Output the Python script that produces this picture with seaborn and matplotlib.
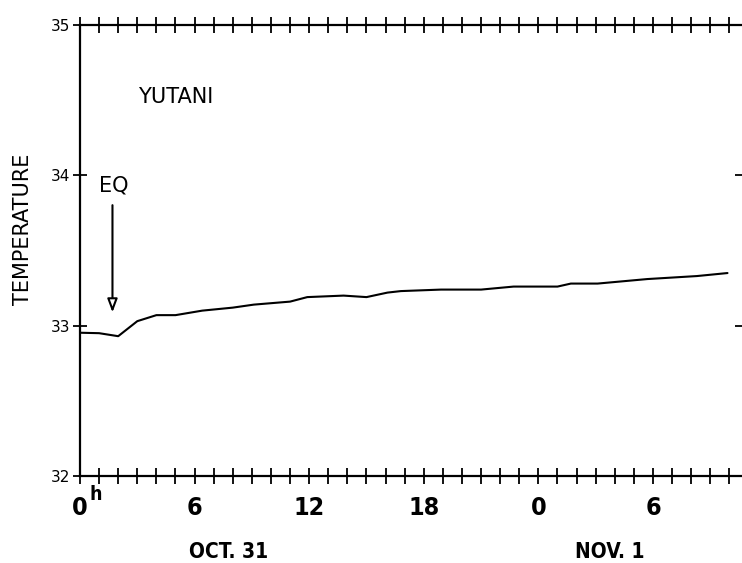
import matplotlib
matplotlib.use("Agg")
import matplotlib.pyplot as plt
import seaborn as sns
import pandas as pd
from matplotlib.ticker import MultipleLocator, FixedLocator, FixedFormatter
import matplotlib.transforms as mtransforms

# ---- data ----
hours = [0, 1, 2, 3, 4, 5, 6.4, 8, 9.1, 11, 11.9, 13.8, 15, 16.1, 16.8,
         18.9, 21, 22.7, 25, 25.7, 27.1, 29.7, 32.3, 33.9]
temps = [32.953, 32.95, 32.93, 33.03, 33.07, 33.07, 33.10, 33.12, 33.14,
         33.16, 33.19, 33.20, 33.19, 33.22, 33.23, 33.24, 33.24, 33.26,
         33.26, 33.28, 33.28, 33.31, 33.33, 33.35]
xtick_pos = [0, 6, 12, 18, 24, 30]
xtick_labels = ["0", "6", "12", "18", "0", "6"]
ytick_pos = [32, 33, 34, 35]
ytick_labels = ["32", "33", "34", "35"]
station = "YUTANI"
eq_hour = 1.7
date_labels = ["OCT. 31", "NOV. 1"]
date_hours = [7.8, 27.75]

df = pd.DataFrame({"hour": hours, "temp": temps})

sns.set_style("ticks")
plt.rcParams["font.family"] = ["DejaVu Sans"]
plt.rcParams["text.color"] = "black"
plt.rcParams["axes.labelcolor"] = "black"
plt.rcParams["xtick.color"] = "black"
plt.rcParams["ytick.color"] = "black"

fig = plt.figure(figsize=(7.42, 5.63), dpi=100)
ax = fig.add_axes([80 / 742, 1 - 476 / 563, 662 / 742, 451 / 563])

sns.lineplot(data=df, x="hour", y="temp", ax=ax, color="black", linewidth=1.5)

ax.set_xlim(0, 34.66)
ax.set_ylim(32, 35)

for s in ["left", "bottom", "top"]:
    ax.spines[s].set_visible(True)
    ax.spines[s].set_linewidth(1.6)
    ax.spines[s].set_color("black")
ax.spines["right"].set_visible(False)

ax.xaxis.set_major_locator(FixedLocator(xtick_pos))
ax.xaxis.set_major_formatter(FixedFormatter(xtick_labels))
ax.xaxis.set_minor_locator(MultipleLocator(1))
ax.yaxis.set_major_locator(FixedLocator(ytick_pos))
ax.yaxis.set_major_formatter(FixedFormatter(ytick_labels))

ax.tick_params(axis="x", which="both", direction="inout", length=11, width=1.3,
               top=True, bottom=True, labeltop=False, color="black")
ax.tick_params(axis="x", which="major", pad=9)
ax.tick_params(axis="y", which="major", direction="inout", length=10, width=1.3,
               left=True, right=True, labelright=False, labelsize=11, pad=2,
               color="black", labelcolor="black")

for lab in ax.get_xticklabels():
    lab.set_family("DejaVu Sans")
    lab.set_fontstretch("condensed")
    lab.set_fontweight("bold")
    lab.set_fontsize(18)
    lab.set_color("black")

ax.set_xlabel("")
ax.set_ylabel("TEMPERATURE", fontsize=15, color="black")
ax.yaxis.set_label_coords(-0.071, 0.548)

trans = mtransforms.blended_transform_factory(ax.transData, ax.transAxes)
ax.text(0.85, -0.042, "h", transform=trans, ha="center", va="center",
        fontsize=14, fontweight="bold", fontstretch="condensed")
for lbl, h in zip(date_labels, date_hours):
    ax.text(h, -0.168, lbl, transform=trans, ha="center", va="center",
            fontsize=15, fontweight="bold", fontstretch="condensed")

ax.text(3.04, 34.52, station, ha="left", va="center", fontsize=15)
ax.text(1.78, 33.93, "EQ", ha="center", va="center", fontsize=15)
ax.annotate("", xy=(eq_hour, 33.07), xytext=(eq_hour, 33.82),
            arrowprops=dict(arrowstyle="-|>,head_width=0.3,head_length=0.8",
                            facecolor="white", edgecolor="black", lw=1.5))

fig.savefig("out.png", dpi=100)
